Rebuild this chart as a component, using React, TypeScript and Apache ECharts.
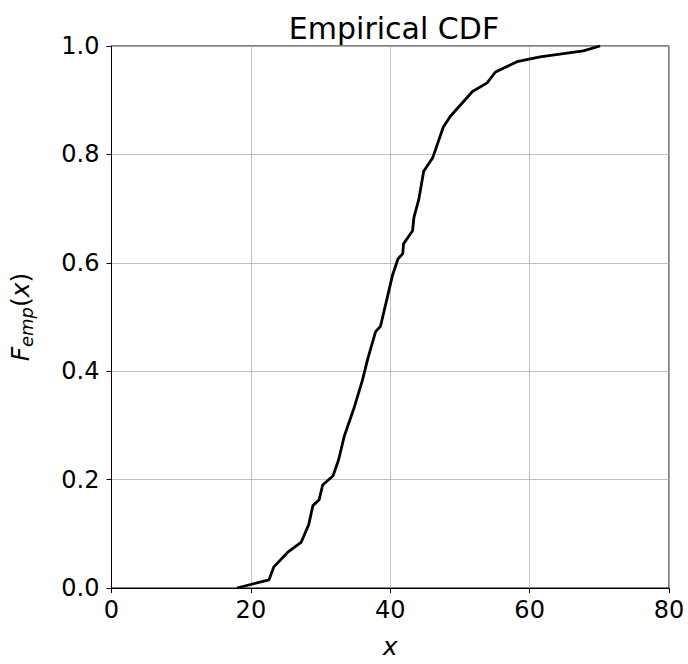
import React, { useEffect, useRef } from "react";
import * as echarts from "echarts";

const xValues = [18.0, 22.6, 23.3, 25.3, 27.2, 28.3, 28.9, 29.8, 30.3, 31.8, 32.6, 33.4, 34.8, 36.0, 36.8, 37.9, 38.6, 39.3, 40.3, 41.1, 41.8, 41.9, 43.2, 43.4, 44.1, 44.8, 46.1, 47.6, 48.6, 51.8, 53.9, 55.1, 58.2, 61.5, 67.7, 70.1];
const yValues = [0.0, 0.015, 0.039, 0.066, 0.084, 0.117, 0.152, 0.163, 0.19, 0.207, 0.237, 0.28, 0.332, 0.383, 0.424, 0.473, 0.483, 0.521, 0.576, 0.607, 0.617, 0.635, 0.659, 0.684, 0.717, 0.769, 0.794, 0.85, 0.87, 0.916, 0.932, 0.952, 0.971, 0.98, 0.991, 1.0];

const titleText = "Empirical CDF";
const font = "DejaVu Sans";

export default function App() {
  const ref = useRef<HTMLDivElement>(null);
  useEffect(() => {
    if (!ref.current) return;
    const chart = echarts.init(ref.current, null, { renderer: "svg" });
    const data = xValues.map((x, i) => [x, yValues[i]]);
    chart.setOption({
      animation: false,
      backgroundColor: "#ffffff",
      title: {
        text: titleText,
        left: 389,
        textAlign: "center",
        top: 8,
        textStyle: { fontFamily: font, fontSize: 30, fontWeight: "normal", color: "#000" },
      },
      grid: {
        left: 110,
        right: 19,
        top: 46,
        bottom: 73,
        show: true,
        borderColor: "#000",
        borderWidth: 1,
        backgroundColor: "transparent",
      },
      xAxis: {
        type: "value",
        min: 0,
        max: 80,
        interval: 20,
        name: "{i|x}",
        nameLocation: "middle",
        nameGap: 46,
        nameTextStyle: {
          rich: { i: { fontFamily: font, fontStyle: "italic", fontSize: 25, color: "#000" } },
        },
        axisLine: { show: true, lineStyle: { color: "#000", width: 1 } },
        axisTick: { show: true, length: 5, lineStyle: { color: "#000" } },
        axisLabel: { fontFamily: font, fontSize: 24, color: "#000", margin: 10 },
        splitLine: { show: true, lineStyle: { color: "#b0b0b0", width: 0.8 } },
      },
      yAxis: {
        type: "value",
        min: 0,
        max: 1,
        interval: 0.2,
        name: "{i|F}{s|emp}{n|(}{i|x}{n|)}",
        nameLocation: "middle",
        nameRotate: 90,
        nameGap: 76,
        nameTextStyle: {
          rich: {
            i: { fontFamily: font, fontStyle: "italic", fontSize: 25, color: "#000" },
            n: { fontFamily: font, fontSize: 25, color: "#000" },
            s: { fontFamily: font, fontStyle: "italic", fontSize: 18, color: "#000", padding: [12, 0, 0, 0] },
          },
        },
        axisLine: { show: true, lineStyle: { color: "#000", width: 1 } },
        axisTick: { show: true, length: 5, lineStyle: { color: "#000" } },
        axisLabel: {
          fontFamily: font,
          fontSize: 24,
          color: "#000",
          margin: 12,
          formatter: (v: number) => v.toFixed(1),
        },
        splitLine: { show: true, lineStyle: { color: "#b0b0b0", width: 0.8 } },
      },
      series: [
        {
          type: "line",
          data,
          showSymbol: false,
          symbol: "none",
          lineStyle: { color: "#000", width: 2.8 },
          clip: false,
        },
      ],
    });
    return () => chart.dispose();
  }, []);
  return (
    <div
      ref={ref}
      style={{ position: "absolute", left: 0, top: 0, width: 688, height: 664, overflow: "hidden" }}
    />
  );
}
